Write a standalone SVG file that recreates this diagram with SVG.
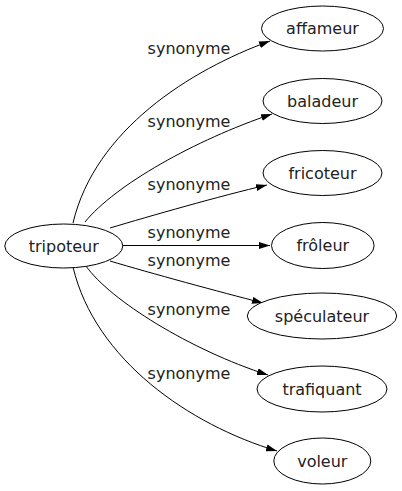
<svg xmlns="http://www.w3.org/2000/svg" width="402" height="491" viewBox="0 0 402 491">
<style>
.n ellipse{fill:#fff;stroke:#000;stroke-width:1}
text{font-family:"DejaVu Sans","Liberation Sans",sans-serif;font-size:16px;fill:#222;text-anchor:middle}
.e path{fill:none;stroke:#000;stroke-width:1}
</style>
<defs>
<marker id="ah" viewBox="0 0 11 7" refX="11" refY="3.5" markerWidth="11" markerHeight="7" markerUnits="userSpaceOnUse" orient="auto">
<path d="M0,0 L11,3.5 L0,7 z" fill="#000"/>
</marker>
</defs>
<rect width="402" height="491" fill="#fff"/>
<g id="edges" class="e">
<path d="M73,223 C95,130 190,70 270,41" marker-end="url(#ah)"/>
<path d="M85,222 C115,185 195,140 272,114" marker-end="url(#ah)"/>
<path d="M110,228 C150,216 220,196 267,185" marker-end="url(#ah)"/>
<path d="M123,245.5 L270,245.5" marker-end="url(#ah)"/>
<path d="M110,261 C150,273 220,292 263,303" marker-end="url(#ah)"/>
<path d="M86,266 C110,300 190,350 268,375" marker-end="url(#ah)"/>
<path d="M73,267 C95,360 190,425 277,451" marker-end="url(#ah)"/>
<text x="189" y="54">synonyme</text>
<text x="189" y="127">synonyme</text>
<text x="189" y="189.5">synonyme</text>
<text x="189" y="237.5">synonyme</text>
<text x="189" y="265.5">synonyme</text>
<text x="189" y="315">synonyme</text>
<text x="189" y="378.5">synonyme</text>
</g>
<g id="tripoteur" class="n"><ellipse cx="63.8" cy="246" rx="59" ry="22"/><text x="63.8" y="251.7">tripoteur</text></g>
<g id="affameur" class="n"><ellipse cx="322.5" cy="28.5" rx="61" ry="22.5"/><text x="322.5" y="34.3">affameur</text></g>
<g id="baladeur" class="n"><ellipse cx="322.5" cy="101" rx="59.5" ry="22.5"/><text x="322.5" y="106.7">baladeur</text></g>
<g id="fricoteur" class="n"><ellipse cx="322.5" cy="173" rx="59.5" ry="22.5"/><text x="322.5" y="178.7">fricoteur</text></g>
<g id="froleur" class="n"><ellipse cx="322.8" cy="245.5" rx="51.3" ry="23"/><text x="322.8" y="251.2">frôleur</text></g>
<g id="speculateur" class="n"><ellipse cx="322" cy="316" rx="74.7" ry="23"/><text x="322" y="321.7">spéculateur</text></g>
<g id="trafiquant" class="n"><ellipse cx="322" cy="389" rx="65" ry="23"/><text x="322" y="394.7">trafiquant</text></g>
<g id="voleur" class="n"><ellipse cx="322.3" cy="461" rx="48.5" ry="23"/><text x="322.3" y="466.7">voleur</text></g>
</svg>
